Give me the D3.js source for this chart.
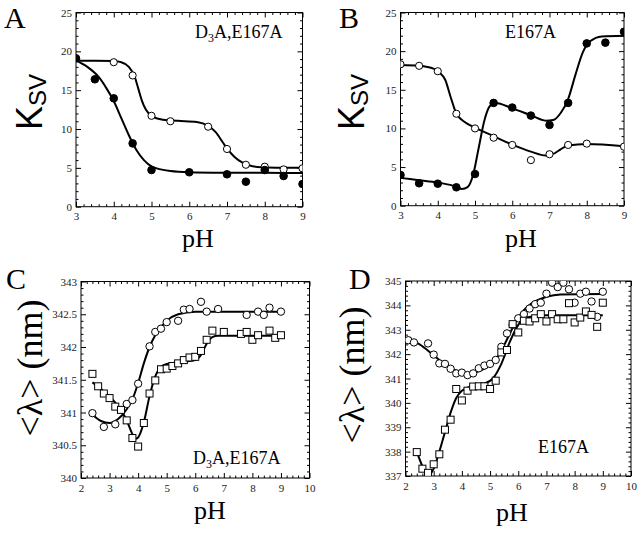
<!DOCTYPE html>
<html><head><meta charset="utf-8">
<script src="https://cdn.jsdelivr.net/npm/d3@7"></script>
<style>body{margin:0;background:#fff}svg{display:block}</style>
</head><body>
<svg id="c" width="641" height="536"></svg>
<script>
// ---------- Panel A (D3A,E167A) ----------
const aFilledPH = [3,3.5,4,4.5,5,6,7,7.5,8,8.5,9];
const aFilled   = [19.1,16.4,13.95,8.15,4.72,4.43,4.17,3.22,4.72,3.95,2.92];
const aOpenPH   = [4,4.5,5,5.5,6.5,7,7.5,8,8.5,9];
const aOpen     = [18.6,16.9,11.7,11.0,10.3,7.43,5.4,5.15,4.8,4.94];
const aFitFilledPH = [3,3.3,3.6,3.8,4.0,4.2,4.4,4.6,4.8,5.0,5.5,6,7,8,9];
const aFitFilled   = [18.8,18.0,16.7,15.3,13.6,11.4,9.2,7.3,6.0,5.2,4.6,4.45,4.38,4.36,4.35];
const aFitOpenPH = [3,3.5,4,4.2,4.4,4.55,4.65,4.75,4.85,5.0,5.3,5.7,6.2,6.5,6.7,6.9,7.0,7.2,7.4,7.6,7.9,8.3,9];
const aFitOpen   = [18.8,18.8,18.75,18.6,18.0,16.8,15.2,13.6,12.5,11.7,11.2,11.05,10.9,10.4,9.6,8.2,7.5,6.4,5.7,5.3,5.08,5.02,5.0];

// ---------- Panel B (E167A) ----------
const bFilledPH = [3,3.5,4,4.5,5,5.5,6,6.5,7,7.5,8,8.5,9];
const bFilled   = [3.98,2.9,2.85,2.38,4.1,13.3,12.7,11.66,10.45,13.3,21.0,21.1,22.5];
const bOpenPH   = [3,3.5,4,4.5,5,5.5,6,6.5,7,7.5,8,9];
const bOpen     = [18.3,18.1,17.4,11.9,10.0,8.8,7.86,5.9,6.66,7.86,8.03,7.64];
const bFitFilledPH = [3,3.5,4,4.4,4.65,4.8,4.95,5.1,5.25,5.4,5.55,6,6.5,6.9,7.1,7.3,7.5,7.7,7.9,8.1,8.4,9];
const bFitFilled   = [3.6,3.3,3.0,2.6,2.15,2.4,4.0,7.5,11.0,12.9,13.3,12.6,11.7,11.0,11.1,12.0,13.8,17.0,19.9,21.3,21.9,22.0];
const bFitOpenPH = [3,3.5,3.9,4.05,4.2,4.35,4.5,4.65,4.8,5.0,5.5,6,6.5,6.9,7.1,7.3,7.5,8,9];
const bFitOpen   = [18.2,18.1,17.7,17.2,16.3,14.0,11.9,11.1,10.6,10.1,9.0,7.9,7.0,6.5,6.7,7.3,7.8,8.0,7.7];

// ---------- Panel C (D3A,E167A) ----------
const cCircPH = [2.4,2.8,3.2,3.6,3.8,4.0,4.4,4.6,4.8,5.0,5.4,5.6,5.8,6.2,6.4,6.8,7.8,8.2,8.4,8.6,9.0];
const cCirc   = [340.99,340.78,340.82,341.13,341.19,341.44,342.01,342.23,342.28,342.38,342.4,342.57,342.58,342.69,342.54,342.58,342.49,342.54,342.49,342.6,342.54];
const cSqPH = [2.4,2.6,2.8,3.0,3.2,3.4,3.6,3.8,4.0,4.2,4.4,4.6,4.8,5.0,5.2,5.4,5.6,5.8,6.0,6.2,6.4,6.6,7.0,7.6,7.8,8.0,8.2,8.6,8.8,9.0];
const cSq   = [341.59,341.40,341.29,341.22,341.09,341.04,340.88,340.61,340.48,340.84,341.29,341.49,341.66,341.67,341.71,341.75,341.80,341.84,341.85,341.94,342.11,342.25,342.23,342.2,342.23,342.11,342.18,342.25,342.14,342.18];
const cFitCircPH = [2.4,2.7,3.0,3.3,3.6,3.8,4.0,4.2,4.4,4.6,4.8,5.0,5.4,6.0,9.0];
const cFitCirc   = [340.97,340.87,340.84,340.9,341.05,341.2,341.45,341.75,342.0,342.18,342.3,342.4,342.5,342.54,342.54];
const cFitSqPH = [2.4,2.8,3.2,3.6,3.8,3.9,4.0,4.2,4.4,4.6,4.8,5.0,5.5,6.0,6.2,6.4,6.6,6.8,9.0];
const cFitSq   = [341.46,341.32,341.15,340.88,340.67,340.6,340.62,340.85,341.25,341.55,341.7,341.74,341.77,341.8,341.88,342.05,342.15,342.17,342.17];

// ---------- Panel D (E167A) ----------
const dCircPH = [2.1,2.3,2.8,3.0,3.2,3.4,3.6,3.8,4.0,4.2,4.4,4.6,4.8,5.0,5.2,5.4,5.6,5.8,6.0,6.2,6.4,6.6,6.8,7.0,7.2,7.4,7.6,7.8,8.0,8.2,8.4,8.6,8.8,9.0];
const dCirc   = [342.57,342.48,342.44,341.98,341.62,341.6,341.4,341.21,341.24,341.14,341.21,341.42,341.53,341.6,341.76,342.3,342.85,343.2,343.47,343.64,343.87,344.05,344.11,344.48,344.93,344.75,344.93,344.66,344.11,344.48,344.56,344.16,343.53,344.56];
const dSqPH = [2.4,2.6,2.8,3.0,3.2,3.4,3.6,3.8,4.0,4.2,4.4,4.6,4.8,5.0,5.2,5.4,5.6,5.8,6.0,6.2,6.4,6.6,6.8,7.0,7.2,7.4,7.6,7.8,8.0,8.2,8.4,8.6,8.8,9.0];
const dSq   = [337.98,337.3,337.13,337.48,337.89,338.9,339.31,340.57,340.1,340.5,340.67,340.68,340.68,340.57,340.91,342.07,342.17,343.23,342.89,343.37,343.34,343.47,343.64,343.34,343.64,343.43,343.43,344.09,343.3,343.5,343.75,343.61,343.12,344.11];
const dFitCircPH = [2.1,2.5,3.0,3.5,4.0,4.3,4.6,5.0,5.3,5.6,5.9,6.2,6.5,7.0,7.5,9.0];
const dFitCirc   = [342.6,342.4,341.95,341.5,341.25,341.2,341.3,341.55,341.95,342.6,343.3,343.8,344.1,344.35,344.45,344.47];
const dFitSqPH = [2.4,2.6,2.8,3.0,3.2,3.4,3.6,3.8,4.0,4.4,4.8,5.1,5.4,5.7,6.0,6.3,7.0,9.0];
const dFitSq   = [338.0,337.4,337.0,337.3,338.0,338.8,339.6,340.2,340.5,340.7,340.8,341.0,341.6,342.5,343.2,343.5,343.6,343.6];

const SERIF = "'Liberation Serif','Times New Roman',serif";
const SANS = "'Liberation Sans',Arial,sans-serif";
const svg = d3.select('#c');
const zip = (xs, ys) => xs.map((v,i)=>[v, ys[i]]);
const rng = (a,b,s) => d3.range(Math.round((b-a)/s)+1).map(i=>+(a+i*s).toFixed(4));
let clipId = 0;

function panel(o){
  const x = d3.scaleLinear().domain(o.xd).range([o.l,o.r]);
  const y = d3.scaleLinear().domain(o.yd).range([o.b,o.t]);
  const g = svg.append('g');
  const xMaj = rng(o.xd[0],o.xd[1],o.xs);
  const xMin = rng(o.xd[0],o.xd[1],o.xm).filter(v=>!xMaj.some(m=>Math.abs(m-v)<1e-6));
  const yMaj = rng(o.yd[0],o.yd[1],o.ys);
  const yMin = rng(o.yd[0],o.yd[1],o.ym).filter(v=>!yMaj.some(m=>Math.abs(m-v)<1e-6));
  function ax(fn, sc, vals, size, tr, fmt, pad){
    const a = fn(sc).tickValues(vals).tickSize(-size).tickPadding(pad||4).tickFormat(fmt || (()=>''));
    const s = g.append('g').attr('transform', tr).call(a);
    s.select('.domain').remove();
    s.selectAll('line').attr('stroke','#000').attr('stroke-width',1);
    s.selectAll('text').attr('font-family',SERIF).attr('font-size',11).attr('fill','#222');
  }
  const fx = d=>String(d), fy = d=>String(d);
  ax(d3.axisBottom, x, xMaj, 5, `translate(0,${o.b})`, fx, 6);
  ax(d3.axisBottom, x, xMin, 2.5, `translate(0,${o.b})`);
  ax(d3.axisTop, x, xMaj, 5, `translate(0,${o.t})`);
  ax(d3.axisTop, x, xMin, 2.5, `translate(0,${o.t})`);
  ax(d3.axisLeft, y, yMaj, 5, `translate(${o.l},0)`, fy, 4);
  ax(d3.axisLeft, y, yMin, 2.5, `translate(${o.l},0)`);
  ax(d3.axisRight, y, yMaj, 5, `translate(${o.r},0)`);
  ax(d3.axisRight, y, yMin, 2.5, `translate(${o.r},0)`);
  g.append('rect').attr('x',o.l).attr('y',o.t).attr('width',o.r-o.l).attr('height',o.b-o.t)
    .attr('fill','none').attr('stroke','#000').attr('stroke-width',1);
  const cid = 'clip'+(clipId++);
  g.append('clipPath').attr('id',cid).append('rect').attr('x',o.l).attr('y',o.t).attr('width',o.r-o.l).attr('height',o.b-o.t);
  const line = d3.line().x(d=>x(d[0])).y(d=>y(d[1])).curve(d3.curveMonotoneX);
  const cg = g.append('g').attr('clip-path',`url(#${cid})`);
  o.fits.forEach(f=>{
    cg.append('path').attr('d', line(f)).attr('fill','none').attr('stroke','#000').attr('stroke-width',2);
  });
  o.series.forEach(s=>{
    if(s.shape==='square'){
      const h = s.size/2;
      cg.selectAll(null).data(s.data).enter().append('rect')
        .attr('x',d=>x(d[0])-h).attr('y',d=>y(d[1])-h).attr('width',s.size).attr('height',s.size)
        .attr('fill','#fff').attr('stroke','#000').attr('stroke-width',1);
    } else {
      cg.selectAll(null).data(s.data).enter().append('circle')
        .attr('cx',d=>x(d[0])).attr('cy',d=>y(d[1])).attr('r',s.r)
        .attr('fill', s.filled ? '#000' : '#fff').attr('stroke','#000').attr('stroke-width',1);
    }
  });
  return g;
}

panel({l:76,r:302.5,t:12.5,b:206.7,xd:[3,9],yd:[0,25],xs:1,xm:0.2,ys:5,ym:1,
  fits:[zip(aFitFilledPH,aFitFilled), zip(aFitOpenPH,aFitOpen)],
  series:[{data:zip(aOpenPH,aOpen),r:3.6,filled:false},{data:zip(aFilledPH,aFilled),r:3.8,filled:true}]});
panel({l:400.5,r:624,t:12.5,b:205.7,xd:[3,9],yd:[0,25],xs:1,xm:0.2,ys:5,ym:1,
  fits:[zip(bFitFilledPH,bFitFilled), zip(bFitOpenPH,bFitOpen)],
  series:[{data:zip(bOpenPH,bOpen),r:3.6,filled:false},{data:zip(bFilledPH,bFilled),r:3.8,filled:true}]});
panel({l:81,r:309.5,t:281.5,b:478,xd:[2,10],yd:[340,343],xs:1,xm:0.2,ys:0.5,ym:0.1,
  fits:[zip(cFitCircPH,cFitCirc), zip(cFitSqPH,cFitSq)],
  series:[{data:zip(cCircPH,cCirc),r:3.7,filled:false},{data:zip(cSqPH,cSq),shape:'square',size:7}]});
panel({l:405.5,r:631,t:281,b:476,xd:[2,10],yd:[337,345],xs:1,xm:0.2,ys:1,ym:0.2,
  fits:[zip(dFitCircPH,dFitCirc), zip(dFitSqPH,dFitSq)],
  series:[{data:zip(dCircPH,dCirc),r:3.7,filled:false},{data:zip(dSqPH,dSq),shape:'square',size:7}]});

// Panel letters
[['A',4,28],['B',339,28],['C',6,289],['D',349,289]].forEach(([t,x,y])=>{
  svg.append('text').attr('x',x).attr('y',y).text(t).attr('font-family',SERIF).attr('font-size',30).attr('fill','#000');
});
// pH labels
[[198,247],[521,247],[210,519],[512,521]].forEach(([x,y])=>{
  svg.append('text').attr('x',x).attr('y',y).attr('text-anchor','middle').text('pH')
    .attr('font-family',SERIF).attr('font-size',26).attr('fill','#000');
});
// K_SV labels
[[42,102],[364,102]].forEach(([x,y])=>{
  const t = svg.append('text').attr('transform',`translate(${x},${y}) rotate(-90)`).attr('text-anchor','middle')
    .attr('font-family',SANS).attr('fill','#000');
  t.append('tspan').attr('font-size',36).text('K');
  t.append('tspan').attr('font-size',24).attr('dy',4).text('SV');
});
// <λ> (nm) labels
[[42,368],[364,375]].forEach(([x,y])=>{
  svg.append('text').attr('transform',`translate(${x},${y}) rotate(-90)`).attr('text-anchor','middle')
    .attr('font-family',SERIF).attr('font-size',36).attr('fill','#000').text('<λ> (nm)');
});
// Annotations
function sub(x,y){
  const t = svg.append('text').attr('x',x).attr('y',y).attr('font-family',SERIF).attr('font-size',18).attr('fill','#000');
  t.append('tspan').text('D');
  t.append('tspan').attr('font-size',12).attr('dy',4).text('3');
  t.append('tspan').attr('dy',-4).text('A,E167A');
}
sub(195,38); sub(193,464);
svg.append('text').attr('x',505).attr('y',38).attr('font-family',SERIF).attr('font-size',18).text('E167A');
svg.append('text').attr('x',538).attr('y',453).attr('font-family',SERIF).attr('font-size',18).text('E167A');
</script>
</body></html>
